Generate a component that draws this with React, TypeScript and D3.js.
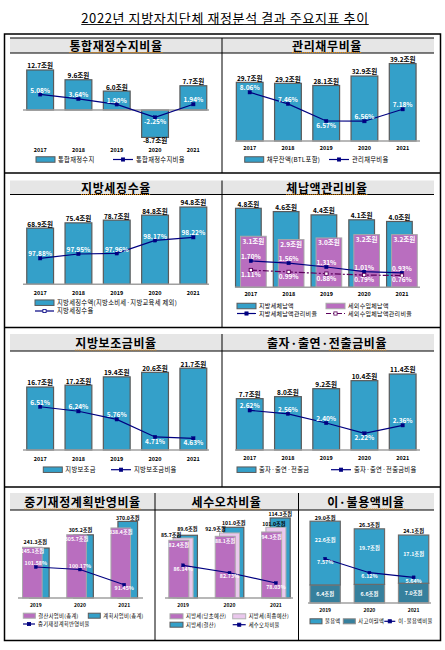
import { useLayoutEffect, useRef, useState } from 'react'
import * as d3 from 'd3'

const FONT = '"Noto Sans CJK KR", "Noto Sans", sans-serif'

// ---- data ----
const years5 = ['2017', '2018', '2019', '2020', '2021']
const years3 = ['2019', '2020', '2021']

const fiscalBalance = [12.7, 9.6, 6.0, -8.7, 7.7]
const fiscalBalanceRatio = [5.08, 3.64, 1.9, -2.25, 1.94]

const debtBalance = [29.7, 29.2, 28.1, 32.9, 39.2]
const debtRatio = [8.06, 7.46, 6.57, 6.56, 7.18]

const localTaxCollected = [68.9, 75.4, 78.7, 84.8, 94.8]
const localTaxRate = [97.88, 97.95, 97.96, 98.17, 98.22]

const localTaxArrears = [4.8, 4.6, 4.4, 4.1, 4.0]
const nonTaxArrears = [3.1, 2.9, 3.0, 3.2, 3.2]
const localTaxArrearsRatio = [1.7, 1.56, 1.31, 1.01, 0.93]
const nonTaxArrearsRatio = [1.11, 0.99, 0.88, 0.79, 0.76]

const subsidy = [16.7, 17.2, 19.4, 20.6, 21.7]
const subsidyRatio = [6.51, 6.24, 5.76, 4.71, 4.63]

const contribution = [7.7, 8.0, 9.2, 10.4, 11.4]
const contributionRatio = [2.62, 2.56, 2.4, 2.22, 2.36]

const midTermSettled = [245.1, 305.7, 338.4]
const midTermPlanned = [241.3, 305.2, 370.0]
const midTermRatio = [101.58, 100.17, 91.45]

const taxInitialBudget = [82.4, 88.1, 94.3]
const taxFinalBudget = [85.7, 92.9, 101.0]
const taxSettled = [89.6, 101.0, 114.3]
const taxErrorRatio = [86.14, 82.73, 78.03]

const unusedAmount = [22.6, 19.7, 17.1]
const carryOver = [6.4, 6.6, 7.0]
const unusedRatio = [7.57, 6.12, 5.64]

// ---- colours ----
const BLUE = '#34a0c9'
const EDGE = '#5a5a5a'
const PURPLE = '#b96ebf'
const PINK = '#eac8ed'
const TEAL = '#36809d'
const NAVY = '#000080'
const PLUM = '#5c005c'
const AXIS = '#a0a0a0'

const fmtJo = (v: number) => `${v.toFixed(1)}조원`
const fmtPct = (v: number) => `${v.toFixed(2)}%`

type Band = d3.ScaleBand<string>
type Lin = d3.ScaleLinear<number, number>

function Bars({ cats, vals, x, y, dx = 0, w, fill, stroke = EDGE, sw = 1.2, base }: {
  cats: string[]; vals: number[]; x: Band; y: Lin; dx?: number; w: number; fill: string; stroke?: string; sw?: number; base?: number[]
}) {
  return (
    <g>
      {cats.map((c, i) => {
        const b = base ? base[i] : 0
        const v = vals[i] + b
        const y0 = y(Math.max(b, v))
        const y1 = y(Math.min(b, v))
        return <rect key={c} x={(x(c) ?? 0) + dx} y={y0} width={w} height={y1 - y0} fill={fill} stroke={stroke} strokeWidth={sw} />
      })}
    </g>
  )
}

function BarLabels({ cats, vals, x, y, dx = 0, w, inside = false, size = 6.5, shift = 0, shifts, lifts }: {
  cats: string[]; vals: number[]; x: Band; y: Lin; dx?: number; w: number; inside?: boolean; size?: number; shift?: number; shifts?: number[]; lifts?: number[]
}) {
  return (
    <g fontSize={size} fontWeight="bold" textAnchor="middle" fill={inside ? '#fff' : '#000'}>
      {cats.map((c, i) => {
        const v = vals[i]
        const cx = (x(c) ?? 0) + dx + w / 2 + (shifts ? shifts[i] : 0)
        let ty: number
        if (inside) ty = y(v) + size + 0.5 + shift
        else if (v >= 0) ty = y(v) - 1.6
        else ty = y(v) + size - 0.6
        if (lifts) ty -= lifts[i]
        return <text key={c} x={cx} y={ty}>{fmtJo(v)}</text>
      })}
    </g>
  )
}

function LineSeries({ cats, vals, x, y, cx, color = NAVY, dash, open = false, ms = 3.4 }: {
  cats: string[]; vals: number[]; x: Band; y: Lin; cx: number; color?: string; dash?: string; open?: boolean; ms?: number
}) {
  const pts: [number, number][] = cats.map((c, i) => [(x(c) ?? 0) + cx, y(vals[i])])
  const d = d3.line()(pts) ?? ''
  return (
    <g>
      <path d={d} fill="none" stroke={color} strokeWidth={1.2} strokeDasharray={dash} />
      {pts.map(([px, py], i) => (
        <rect key={i} x={px - ms / 2} y={py - ms / 2} width={ms} height={ms}
          fill={open ? '#fff' : color} stroke={color} strokeWidth={open ? 0.9 : 0.4} />
      ))}
    </g>
  )
}

function LineLabels({ cats, vals, x, y, cx, below, size = 6.5, dy = 4.2 }: {
  cats: string[]; vals: number[]; x: Band; y: Lin; cx: number; below: boolean[]; size?: number; dy?: number
}) {
  return (
    <g fontSize={size} fontWeight="bold" textAnchor="middle" fill="#fff">
      {cats.map((c, i) => (
        <text key={c} x={(x(c) ?? 0) + cx} y={y(vals[i]) + (below[i] ? dy : -dy) + size * 0.36}>
          {fmtPct(vals[i])}
        </text>
      ))}
    </g>
  )
}

function XLabels({ cats, x, cx, y, size = 5.5 }: { cats: string[]; x: Band; cx: number; y: number; size?: number }) {
  return (
    <g fontSize={size} fontWeight="bold" textAnchor="middle" fill="#000">
      {cats.map(c => <text key={c} x={(x(c) ?? 0) + cx} y={y}>{c}</text>)}
    </g>
  )
}

function LegendBox({ x, y, w = 19, h = 5.5, fill, stroke = EDGE, label, size = 6.3 }: {
  x: number; y: number; w?: number; h?: number; fill: string; stroke?: string; label: string; size?: number
}) {
  return (
    <g>
      <rect x={x} y={y - h / 2} width={w} height={h} fill={fill} stroke={stroke} strokeWidth={1} />
      <text x={x + w + 3} y={y + size * 0.36} fontSize={size} letterSpacing={0.3}>{label}</text>
    </g>
  )
}

function LegendLine({ x, y, w = 20, color = NAVY, dash, open = false, label, size = 6.3 }: {
  x: number; y: number; w?: number; color?: string; dash?: string; open?: boolean; label: string; size?: number
}) {
  return (
    <g>
      <line x1={x} x2={x + w} y1={y} y2={y} stroke={color} strokeWidth={1.2} strokeDasharray={dash} />
      <rect x={x + w / 2 - 1.6} y={y - 1.6} width={3.2} height={3.2} fill={open ? '#fff' : color} stroke={color} strokeWidth={0.8} />
      <text x={x + w + 3} y={y + size * 0.36} fontSize={size} letterSpacing={0.3}>{label}</text>
    </g>
  )
}

function Underlined({ cx, y, text, size, bold, from = 0, color, dotted, spacing = 0 }: {
  cx: number; y: number; text: string; size: number; bold?: boolean; from?: number; color: string; dotted?: boolean; spacing?: number
}) {
  const ref = useRef<SVGTextElement>(null)
  const [ul, setUl] = useState<[number, number] | null>(null)
  useLayoutEffect(() => {
    const el = ref.current
    if (!el) return
    const box = el.getBBox()
    const off = from > 0 ? el.getSubStringLength(0, from) : 0
    setUl([box.x + off, box.x + box.width])
  }, [text, from])
  return (
    <g>
      <text ref={ref} x={cx} y={y} textAnchor="middle" fontSize={size} fontWeight={bold ? 'bold' : 'normal'} letterSpacing={spacing}>{text}</text>
      {ul && (
        <line x1={ul[0]} x2={ul[1]} y1={y + 2} y2={y + 2} stroke={color}
          strokeWidth={dotted ? 1.1 : 0.9} strokeDasharray={dotted ? '1 1' : undefined} />
      )}
    </g>
  )
}

function PanelTitle({ cx, y, text, from = 0 }: { cx: number; y: number; text: string; from?: number }) {
  return <Underlined cx={cx} y={y} text={text} size={12} bold from={from} color="#f08c00" dotted spacing={0.6} />
}

export default function App() {
  // scales - left and right halves
  const xL = d3.scaleBand<string>().domain(years5).range([21, 212.5]).paddingInner(0.3).paddingOuter(0.15)
  const xR = d3.scaleBand<string>().domain(years5).range([230.6, 421.8]).paddingInner(0.3).paddingOuter(0.15)
  const bwL = xL.bandwidth()
  const bwR = xR.bandwidth()

  const yb1 = d3.scaleLinear().domain([0, 15]).range([110, 62.75])
  const yl1 = d3.scaleLinear().domain([-5, 10]).range([126, 79])

  const yb2 = d3.scaleLinear().domain([0, 40]).range([141, 62])
  const yl2 = d3.scaleLinear().domain([6, 9]).range([132, 74.2])

  const yb3 = d3.scaleLinear().domain([0, 100]).range([284.3, 202.8])
  const yl3 = d3.scaleLinear().domain([97.6, 98.4]).range([275.6, 226.2])

  const x4 = d3.scaleBand<string>().domain(years5).range([229.5, 418.3]).paddingInner(0.32).paddingOuter(0.16)
  const bw4 = x4.bandwidth()
  const yb4 = d3.scaleLinear().domain([0, 5]).range([287.3, 205])
  const yl4 = d3.scaleLinear().domain([0, 5]).range([287.3, 209.8])

  const yb5 = d3.scaleLinear().domain([0, 25]).range([450, 355.75])
  const yl5 = d3.scaleLinear().domain([4, 7]).range([448.9, 398.5])

  const yb6 = d3.scaleLinear().domain([0, 12]).range([450, 370])
  const yl6 = d3.scaleLinear().domain([2, 3]).range([446, 388.5])

  const x7 = d3.scaleBand<string>().domain(years3).range([14, 146]).paddingInner(0.4).paddingOuter(0.193)
  const bw7 = x7.bandwidth()
  const yb7 = d3.scaleLinear().domain([0, 400]).range([598, 515.2])
  const yl7 = d3.scaleLinear().domain([80, 110]).range([604.7, 552.3])

  const x8 = d3.scaleBand<string>().domain(years3).range([160, 299]).paddingInner(0.384).paddingOuter(0.19)
  const bw8 = x8.bandwidth()
  const yb8 = d3.scaleLinear().domain([0, 120]).range([598, 514])
  const yl8 = d3.scaleLinear().domain([70, 100]).range([600.5, 535.1])

  const x9 = d3.scaleBand<string>().domain(years3).range([301.2, 437.6]).paddingInner(0.315).paddingOuter(0.2)
  const bw9 = x9.bandwidth()
  const yb9 = d3.scaleLinear().domain([0, 30]).range([603, 518.4])
  const yl9 = d3.scaleLinear().domain([4, 9]).range([593.2, 544.9])
  const unusedTotal = years3.map((_, i) => unusedAmount[i] + carryOver[i])

  const rowBars = [
    { y: 38, h: 15 },
    { y: 180.5, h: 14 },
    { y: 334, h: 17 },
    { y: 493, h: 17 },
  ]

  return (
    <svg width={445} height={650} viewBox="0 0 445 650" fontFamily={FONT}
      style={{ position: 'absolute', left: 0, top: 0, display: 'block', background: '#fff' }}>
      <rect width={445} height={650} fill="#fff" />

      <Underlined cx={225} y={22.5} text="2022년 지방자치단체 재정분석 결과 주요지표 추이" size={13} spacing={0.6} color="#000" />

      {/* table frame */}
      {rowBars.map((r, i) => (
        <g key={i}>
          <rect x={10} y={r.y} width={424} height={r.h} fill="#e6e6e6" />
          <line x1={10} x2={434} y1={r.y + r.h} y2={r.y + r.h} stroke="#000" strokeWidth={1} />
        </g>
      ))}
      <line x1={10} x2={434} y1={38} y2={38} stroke="#000" strokeWidth={1} />
      <rect x={4.5} y={34} width={436} height={606.5} fill="none" stroke="#000" strokeWidth={1.5} />
      {[173, 327.5, 487].map(y => (
        <line key={y} x1={4.5} x2={440.5} y1={y} y2={y} stroke="#000" strokeWidth={1.3} />
      ))}
      <line x1={222} x2={222} y1={38} y2={173} stroke="#000" strokeWidth={1} />
      <line x1={222} x2={222} y1={180.5} y2={327.5} stroke="#000" strokeWidth={1} />
      <line x1={222} x2={222} y1={334} y2={487} stroke="#000" strokeWidth={1} />
      <line x1={155} x2={155} y1={493} y2={640} stroke="#000" strokeWidth={1} />
      <line x1={298.5} x2={298.5} y1={493} y2={640} stroke="#000" strokeWidth={1} />

      {/* titles */}
      <PanelTitle cx={116} y={50.5} text="통합재정수지비율" />
      <PanelTitle cx={327} y={50.5} text="관리채무비율" />
      <PanelTitle cx={116} y={192.5} text="지방세징수율" />
      <PanelTitle cx={327} y={192.5} text="체납액관리비율" />
      <PanelTitle cx={116} y={348} text="지방보조금비율" />
      <PanelTitle cx={327} y={348} text="출자·출연·전출금비율" from={6} />
      <PanelTitle cx={82.5} y={507} text="중기재정계획반영비율" />
      <PanelTitle cx={226.5} y={507} text="세수오차비율" />
      <PanelTitle cx={366} y={507} text="이·불용액비율" from={3} />

      {/* 1. 통합재정수지비율 */}
      <Bars cats={years5} vals={fiscalBalance} x={xL} y={yb1} w={bwL} fill={BLUE} />
      <line x1={23} x2={209} y1={yb1(0)} y2={yb1(0)} stroke={AXIS} strokeWidth={1.5} />
      <BarLabels cats={years5} vals={fiscalBalance} x={xL} y={yb1} w={bwL} />
      <LineSeries cats={years5} vals={fiscalBalanceRatio} x={xL} y={yl1} cx={bwL / 2} />
      <LineLabels cats={years5} vals={fiscalBalanceRatio} x={xL} y={yl1} cx={bwL / 2} below={[false, false, false, true, false]} />
      <XLabels cats={years5} x={xL} cx={bwL / 2} y={151.5} />
      <LegendBox x={36} y={159.5} fill={BLUE} label="통합재정수지" />
      <LegendLine x={113} y={159.5} label="통합재정수지비율" />

      {/* 2. 관리채무비율 */}
      <Bars cats={years5} vals={debtBalance} x={xR} y={yb2} w={bwR} fill={BLUE} />
      <line x1={235} x2={420} y1={yb2(0)} y2={yb2(0)} stroke={AXIS} strokeWidth={1.5} />
      <BarLabels cats={years5} vals={debtBalance} x={xR} y={yb2} w={bwR} />
      <LineSeries cats={years5} vals={debtRatio} x={xR} y={yl2} cx={bwR / 2} />
      <LineLabels cats={years5} vals={debtRatio} x={xR} y={yl2} cx={bwR / 2} below={[false, false, true, false, false]} />
      <XLabels cats={years5} x={xR} cx={bwR / 2} y={150} />
      <LegendBox x={244.7} y={159.5} fill={BLUE} label="채무잔액(BTL포함)" />
      <LegendLine x={329} y={159.5} label="관리채무비율" />

      {/* 3. 지방세징수율 */}
      <Bars cats={years5} vals={localTaxCollected} x={xL} y={yb3} w={bwL} fill={BLUE} />
      <line x1={23} x2={209} y1={yb3(0)} y2={yb3(0)} stroke={AXIS} strokeWidth={1.5} />
      <BarLabels cats={years5} vals={localTaxCollected} x={xL} y={yb3} w={bwL} />
      <LineSeries cats={years5} vals={localTaxRate} x={xL} y={yl3} cx={bwL / 2} />
      <LineLabels cats={years5} vals={localTaxRate} x={xL} y={yl3} cx={bwL / 2} below={[false, false, false, false, false]} />
      <XLabels cats={years5} x={xL} cx={bwL / 2} y={294.5} />
      <LegendBox x={35} y={302.7} fill={BLUE} label="지방세징수액(지방소비세·지방교육세 제외)" />
      <LegendLine x={35} y={311} w={19} open label="지방세징수율" />

      {/* 4. 체납액관리비율 */}
      <Bars cats={years5} vals={localTaxArrears} x={x4} y={yb4} w={bw4} fill={BLUE} />
      <Bars cats={years5} vals={nonTaxArrears} x={x4} y={yb4} dx={5} w={bw4} fill={PURPLE} stroke="#a8a8a8" sw={1} />
      <line x1={235} x2={420} y1={yb4(0)} y2={yb4(0)} stroke={AXIS} strokeWidth={1.5} />
      <BarLabels cats={years5} vals={localTaxArrears} x={x4} y={yb4} w={bw4} />
      <BarLabels cats={years5} vals={nonTaxArrears} x={x4} y={yb4} dx={5} w={bw4} inside shift={0.5} />
      <LineSeries cats={years5} vals={localTaxArrearsRatio} x={x4} y={yl4} cx={(bw4 + 5) / 2} />
      <LineSeries cats={years5} vals={nonTaxArrearsRatio} x={x4} y={yl4} cx={(bw4 + 5) / 2} color={PLUM} dash="6 2 2 2" open />
      <LineLabels cats={years5} vals={localTaxArrearsRatio} x={x4} y={yl4} cx={(bw4 + 5) / 2} below={[false, false, false, false, false]} />
      <LineLabels cats={years5} vals={nonTaxArrearsRatio} x={x4} y={yl4} cx={(bw4 + 5) / 2} below={[true, true, true, true, true]} dy={4.6} />
      <XLabels cats={years5} x={x4} cx={(bw4 + 5) / 2} y={296} />
      <LegendBox x={237} y={306} fill={BLUE} label="지방세체납액" size={6} />
      <LegendBox x={326} y={306} fill={PURPLE} stroke="#a8a8a8" label="세외수입체납액" size={6} />
      <LegendLine x={237} y={313.5} w={19} label="지방세체납액관리비율" size={6} />
      <LegendLine x={326} y={313.5} w={19} color={PLUM} dash="5 2 2 2" open label="세외수입체납액관리비율" size={6} />

      {/* 5. 지방보조금비율 */}
      <Bars cats={years5} vals={subsidy} x={xL} y={yb5} w={bwL} fill={BLUE} />
      <line x1={23} x2={209} y1={yb5(0)} y2={yb5(0)} stroke={AXIS} strokeWidth={1.5} />
      <BarLabels cats={years5} vals={subsidy} x={xL} y={yb5} w={bwL} />
      <LineSeries cats={years5} vals={subsidyRatio} x={xL} y={yl5} cx={bwL / 2} />
      <LineLabels cats={years5} vals={subsidyRatio} x={xL} y={yl5} cx={bwL / 2} below={[false, false, false, true, true]} />
      <XLabels cats={years5} x={xL} cx={bwL / 2} y={460.5} />
      <LegendBox x={43.3} y={469.7} fill={BLUE} label="지방보조금" />
      <LegendLine x={111} y={469.7} label="지방보조금비율" />

      {/* 6. 출자·출연·전출금비율 */}
      <Bars cats={years5} vals={contribution} x={xR} y={yb6} w={bwR} fill={BLUE} />
      <line x1={235} x2={420} y1={yb6(0)} y2={yb6(0)} stroke={AXIS} strokeWidth={1.5} />
      <BarLabels cats={years5} vals={contribution} x={xR} y={yb6} w={bwR} />
      <LineSeries cats={years5} vals={contributionRatio} x={xR} y={yl6} cx={bwR / 2} />
      <LineLabels cats={years5} vals={contributionRatio} x={xR} y={yl6} cx={bwR / 2} below={[false, false, false, true, false]} />
      <XLabels cats={years5} x={xR} cx={bwR / 2} y={460} />
      <LegendBox x={237} y={469.7} fill={BLUE} label="출자·출연·전출금" />
      <LegendLine x={331} y={469.7} label="출자·출연·전출금비율" />

      {/* 7. 중기재정계획반영비율 */}
      <Bars cats={years3} vals={midTermPlanned} x={x7} y={yb7} dx={7} w={19.6} fill={BLUE} />
      <Bars cats={years3} vals={midTermSettled} x={x7} y={yb7} w={19.6} fill={PURPLE} stroke="#a8a8a8" sw={1} />
      <line x1={18} x2={143} y1={yb7(0)} y2={yb7(0)} stroke={AXIS} strokeWidth={1.5} />
      <BarLabels cats={years3} vals={midTermPlanned} x={x7} y={yb7} dx={7} w={19.6} size={5.2} shifts={[-4, -3, 0]} lifts={[2.2, 1.2, 0]} />
      <BarLabels cats={years3} vals={midTermSettled} x={x7} y={yb7} w={19.6} inside size={5.2} shift={0.4} />
      <LineSeries cats={years3} vals={midTermRatio} x={x7} y={yl7} cx={bw7 / 2} ms={3} />
      <LineLabels cats={years3} vals={midTermRatio} x={x7} y={yl7} cx={bw7 / 2} below={[false, false, true]} size={5.3} dy={3.6} />
      <XLabels cats={years3} x={x7} cx={bw7 / 2} y={606.5} size={5} />
      <LegendBox x={23.3} y={615.7} w={12} h={5} fill={PURPLE} stroke="#a8a8a8" label="결산사업비(총계)" size={5.3} />
      <LegendBox x={88.3} y={615.7} w={12} h={5} fill={BLUE} label="계획사업비(총계)" size={5.3} />
      <LegendLine x={23} y={624} w={12} label="중기재정계획반영비율" size={5.3} />

      {/* 8. 세수오차비율 */}
      <Bars cats={years3} vals={taxSettled} x={x8} y={yb8} dx={8.6} w={20} fill={BLUE} />
      <Bars cats={years3} vals={taxFinalBudget} x={x8} y={yb8} dx={4.3} w={20} fill={PINK} stroke="#b0b0b0" sw={1} />
      <Bars cats={years3} vals={taxInitialBudget} x={x8} y={yb8} w={20} fill={PURPLE} stroke="#a8a8a8" sw={1} />
      <line x1={165} x2={293} y1={yb8(0)} y2={yb8(0)} stroke={AXIS} strokeWidth={1.5} />
      <BarLabels cats={years3} vals={taxSettled} x={x8} y={yb8} dx={8.6} w={20} size={5.2} shifts={[0, 0, 0]} lifts={[2.4, 0.6, 0]} />
      <BarLabels cats={years3} vals={taxFinalBudget} x={x8} y={yb8} dx={4.3} w={20} size={5.2} shifts={[-12, -14, -2]} lifts={[-0.6, 0, 0]} />
      <BarLabels cats={years3} vals={taxInitialBudget} x={x8} y={yb8} w={20} inside size={5.2} shift={1.4} />
      <LineSeries cats={years3} vals={taxErrorRatio} x={x8} y={yl8} cx={bw8 / 2} ms={3} />
      <LineLabels cats={years3} vals={taxErrorRatio} x={x8} y={yl8} cx={bw8 / 2} below={[true, true, true]} size={5.3} dy={3.6} />
      <XLabels cats={years3} x={x8} cx={bw8 / 2} y={606.5} size={5} />
      <LegendBox x={170} y={616.3} w={13} h={5} fill={PURPLE} stroke="#a8a8a8" label="지방세(당초예산)" size={5.3} />
      <LegendBox x={232.7} y={616.3} w={13} h={5} fill={PINK} stroke="#b0b0b0" label="지방세(최종예산)" size={5.3} />
      <LegendBox x={170} y={624.7} w={13} h={5} fill={BLUE} label="지방세(결산)" size={5.3} />
      <LegendLine x={232.7} y={624.7} w={13} label="세수오차비율" size={5.3} />

      {/* 9. 이·불용액비율 */}
      <Bars cats={years3} vals={carryOver} x={x9} y={yb9} w={bw9} fill={TEAL} stroke="#8a8a8a" />
      <Bars cats={years3} vals={unusedAmount} base={carryOver} x={x9} y={yb9} w={bw9} fill={BLUE} stroke="#6a6a6a" />
      <line x1={308} x2={431} y1={yb9(0)} y2={yb9(0)} stroke={AXIS} strokeWidth={1.5} />
      <BarLabels cats={years3} vals={unusedTotal} x={x9} y={yb9} w={bw9} size={5.3} />
      <g fontSize={5.3} fontWeight="bold" textAnchor="middle" fill="#fff">
        {years3.map((c, i) => (
          <text key={c} x={(x9(c) ?? 0) + bw9 / 2} y={yb9(unusedTotal[i]) + 21}>{fmtJo(unusedAmount[i])}</text>
        ))}
        {years3.map((c, i) => (
          <text key={c + 'b'} x={(x9(c) ?? 0) + bw9 / 2} y={yb9(carryOver[i] / 2) + 2}>{fmtJo(carryOver[i])}</text>
        ))}
      </g>
      <LineSeries cats={years3} vals={unusedRatio} x={x9} y={yl9} cx={bw9 / 2} ms={3} />
      <LineLabels cats={years3} vals={unusedRatio} x={x9} y={yl9} cx={bw9 / 2} below={[true, true, true]} size={5.3} dy={3.8} />
      <XLabels cats={years3} x={x9} cx={bw9 / 2} y={611.5} size={5} />
      <LegendBox x={310} y={621.3} w={12} h={5} fill={BLUE} label="불용액" size={5.3} />
      <LegendBox x={343.3} y={621.3} w={12} h={5} fill={TEAL} stroke="#8a8a8a" label="사고이월액" size={5.3} />
      <LegendLine x={384.3} y={621.3} w={11} label="이·불용액비율" size={5.3} />
    </svg>
  )
}
